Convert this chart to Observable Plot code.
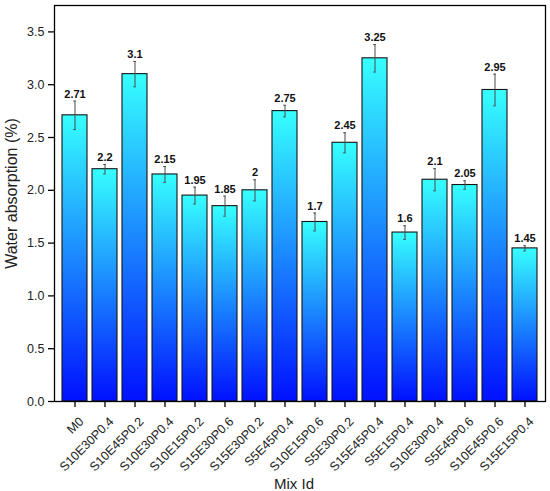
<!DOCTYPE html>
<html><head><meta charset="utf-8">
<script src="https://cdn.jsdelivr.net/npm/d3@7"></script>
<script src="https://cdn.jsdelivr.net/npm/@observablehq/plot@0.6"></script>
<style>
body{margin:0;background:#fff;}
</style>
</head><body>
<div id="chart"></div>
<script>
const mixIds = ["M0","S10E30P0.4","S10E45P0.2","S10E30P0.4","S10E15P0.2","S15E30P0.6","S15E30P0.2","S5E45P0.4","S10E15P0.6","S5E30P0.2","S15E45P0.4","S5E15P0.4","S10E30P0.4","S5E45P0.6","S10E45P0.6","S15E15P0.4"];
const absorption = [2.71,2.2,3.1,2.15,1.95,1.85,2,2.75,1.7,2.45,3.25,1.6,2.1,2.05,2.95,1.45];
const errors = [0.135,0.045,0.12,0.075,0.08,0.095,0.1,0.055,0.085,0.095,0.13,0.065,0.105,0.04,0.15,0.025];
const valueLabels = ["2.71","2.2","3.1","2.15","1.95","1.85","2","2.75","1.7","2.45","3.25","1.6","2.1","2.05","2.95","1.45"];
const yTicks = [0,0.5,1,1.5,2,2.5,3,3.5];
const yTitle = "Water absorption (%)";
const xTitle = "Mix Id";

const data = mixIds.map((id,i)=>({i, id, v: absorption[i], e: errors[i], lab: valueLabels[i]}));
const font = "Arial, 'Liberation Sans', sans-serif";

const chart = Plot.plot({
  width: 550, height: 491,
  marginLeft: 54, marginRight: 5, marginTop: 5, marginBottom: 90,
  style: {fontFamily: font, background: "#fff", color: "#000", overflow: "visible"},
  x: {type: "band", domain: d3.range(mixIds.length), paddingInner: 0.18, paddingOuter: 0.09, label: null},
  y: {domain: [0, 3.75], label: null},
  marks: [
    Plot.barY(data, {x:"i", y:"v", fill:"url(#barGrad)", stroke:"#151515", strokeWidth:1.1}),
    Plot.ruleX(data, {x:"i", y1: d=>d.v-d.e, y2: d=>d.v+d.e, stroke:"#4a4a4a", strokeWidth:1}),
    Plot.tickY(data, {x:"i", y: d=>d.v+d.e, stroke:"#4a4a4a", strokeWidth:1, insetLeft: 11.2, insetRight: 11.2}),
    Plot.tickY(data, {x:"i", y: d=>d.v-d.e, stroke:"#4a4a4a", strokeWidth:1, insetLeft: 11.2, insetRight: 11.2}),
    Plot.text(data, {x:"i", y: d=>d.v+d.e, text:"lab", dy: -7, fontWeight:"bold", fontSize: 11, fill:"#111"}),
    Plot.axisY({ticks: yTicks, tickFormat: d3.format(".1f"), tickSize: 6, tickPadding: 4, fontSize: 12.5, strokeWidth: 1.3, label: null, fill: "#222"}),
    Plot.axisX({tickSize: 6, tickFormat: () => "", strokeWidth: 1.3, label: null}),
    Plot.axisX({tickSize: 0, tickPadding: 3, tickRotate: -45, tickFormat: i => mixIds[i], fontSize: 12.5, dx: 6.5, dy: 15, label: null, fill: "#222"}),
    Plot.text([yTitle], {frameAnchor: "left", textAnchor: "middle", lineAnchor: "middle", text: d => d, rotate: -90, dx: -43, dy: -10, fontSize: 16, fill: "#222"}),
    Plot.text([xTitle], {frameAnchor: "bottom", textAnchor: "middle", lineAnchor: "middle", text: d => d, dx: -6, dy: 83, fontSize: 15, fill: "#222"}),
    Plot.frame({stroke:"#000", strokeWidth:1.3})
  ]
});

const svg = d3.select(chart);
const defs = svg.insert("defs", ":first-child");
const grad = defs.append("linearGradient").attr("id","barGrad").attr("x1",0).attr("y1",0).attr("x2",0).attr("y2",1);
grad.append("stop").attr("offset","0%").attr("stop-color","#36ffff");
grad.append("stop").attr("offset","100%").attr("stop-color","#0010ff");
document.getElementById("chart").appendChild(chart);
</script>
</body></html>
